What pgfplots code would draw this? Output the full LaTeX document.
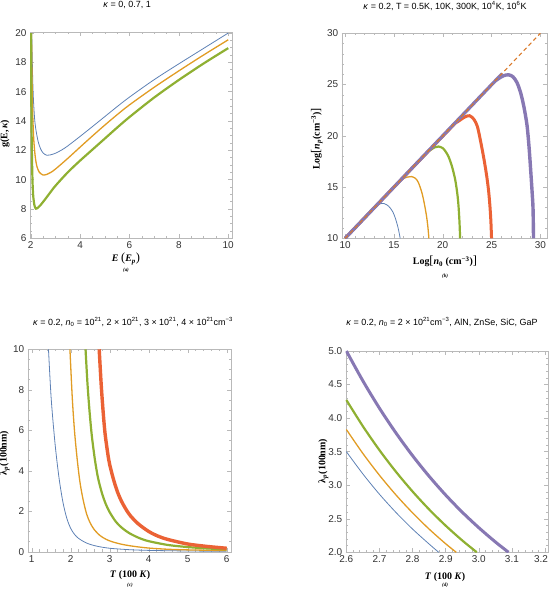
\documentclass[border=0pt]{standalone}
\usepackage{fontspec}
\setmainfont{Liberation Serif}
\setsansfont{Liberation Sans}
\usepackage{pgfplots}
\pgfplotsset{compat=1.18}

\definecolor{mblue}{RGB}{94,129,181}
\definecolor{morange}{RGB}{225,156,36}
\definecolor{mgreen}{RGB}{143,176,50}
\definecolor{mred}{RGB}{235,98,53}
\definecolor{mpurple}{RGB}{135,120,179}
\definecolor{mdash}{RGB}{218,120,40}
\definecolor{fr}{RGB}{185,185,185}

\pgfplotsset{
  mma/.style={
    scale only axis, anchor=south west,
    axis line style={fr},
    every tick/.style={fr},
    major tick length=4bp, minor tick length=2.2bp,
    tick label style={font=\sffamily\fontsize{10}{10}\selectfont, text=black!80},
    /pgf/number format/assume math mode=true,
  },
  lb/.style={mblue, line width=0.8bp, smooth},
  lo/.style={morange, line width=1.3bp, smooth},
  lg/.style={mgreen, line width=2.2bp, smooth},
  lr/.style={mred, line width=3.0bp, smooth},
  lp/.style={mpurple, line width=3.4bp, smooth},
}
\newcommand{\ttl}{\sffamily\fontsize{9}{10}\selectfont}
\newcommand{\lab}{\rmfamily\bfseries\fontsize{10}{11}\selectfont}
\newcommand{\sub}{\rmfamily\bfseries\itshape\fontsize{5}{5}\selectfont}
\newcommand{\bp}[1]{{\fontsize{12.5}{12.5}\selectfont\mdseries #1}}

\begin{document}
\begin{tikzpicture}
\path[use as bounding box] (0,0) rectangle (549bp,589bp);

% (a)
\begin{axis}[mma, at={(30bp,350.7bp)}, width=201.7bp, height=206bp,
  xmin=1.97, xmax=10.14, ymin=6, ymax=20.05,
  xtick={2,4,...,10}, ytick={6,8,...,20}, minor tick num=3]
\addplot[lb] coordinates {(2.04,20) (2.07,17.5) (2.1,15.8) (2.15,14.3) (2.2,13.5) (2.3,12.6) (2.4,12.1) (2.5,11.82) (2.65,11.66) (2.8,11.69) (3.0,11.8) (3.25,12.02) (3.5,12.3) (4.0,12.95) (4.5,13.62) (5.0,14.3) (5.5,14.98) (6.0,15.63) (7.0,16.82) (8.0,17.9) (9.0,18.95) (10.0,20.0)};
\addplot[lo] coordinates {(2.03,20) (2.05,17) (2.08,14.5) (2.12,12.8) (2.18,11.6) (2.25,10.9) (2.35,10.5) (2.5,10.32) (2.65,10.36) (2.8,10.48) (3.0,10.72) (3.5,11.45) (4.0,12.22) (4.5,12.98) (5.0,13.72) (5.5,14.43) (6.0,15.1) (7.0,16.3) (8.0,17.42) (9.0,18.5) (10.0,19.54)};
\addplot[lg] coordinates {(2.01,20) (2.02,16) (2.04,12.5) (2.07,10) (2.1,8.9) (2.15,8.25) (2.21,8.02) (2.3,8.1) (2.4,8.27) (2.5,8.48) (2.6,8.7) (2.8,9.15) (3.0,9.58) (3.5,10.5) (4.0,11.3) (4.5,12.05) (5.0,12.8) (5.5,13.55) (6.0,14.27) (7.0,15.6) (8.0,16.8) (9.0,17.92) (10.0,18.97)};
\end{axis}

% (b)
\begin{axis}[mma, at={(341.7bp,350.7bp)}, width=205bp, height=205bp,
  xmin=9.65, xmax=30.65, ymin=10, ymax=30,
  xtick={10,15,...,30}, ytick={10,15,...,30}, minor tick num=4]
\addplot[lb] coordinates {(10,10) (12,11.99) (12.6,12.58) (13,12.93) (13.3,13.18) (13.55,13.34) (13.76,13.41) (14.0,13.39) (14.3,13.25) (14.6,12.98) (14.9,12.55) (15.15,11.95) (15.35,11.3) (15.5,10.7) (15.64,10)};
\addplot[lo] coordinates {(10,10) (15,14.98) (15.5,15.45) (16.0,15.85) (16.4,15.98) (16.8,16.02) (17.2,15.85) (17.5,15.45) (17.85,14.5) (18.1,13.45) (18.35,12.1) (18.5,10.9) (18.58,10)};
\addplot[lg] coordinates {(10,10) (18.3,18.25) (18.8,18.65) (19.2,18.88) (19.57,18.95) (20.0,18.8) (20.3,18.45) (20.6,17.95) (20.95,17.0) (21.28,15.7) (21.5,14.3) (21.62,13.1) (21.72,11.5) (21.78,10)};
\addplot[lr] coordinates {(10,10) (21.0,20.95) (21.8,21.55) (22.3,21.85) (22.75,21.96) (23.2,21.6) (23.55,20.9) (23.85,19.6) (24.2,17.85) (24.5,16.1) (24.7,14.6) (24.83,13.2) (24.93,11.7) (25.0,10)};
\addplot[lp] coordinates {(10,10) (25.0,24.98) (25.6,25.5) (26.2,25.85) (26.75,25.95) (27.2,25.75) (27.6,25.2) (27.95,24.3) (28.3,22.9) (28.63,21.05) (28.85,18.8) (29.04,16.2) (29.17,14.3) (29.25,12.9) (29.3,10)};
\addplot[mdash, line width=1.1bp, dash pattern=on 4bp off 3bp] coordinates {(10,10) (30,30)};
\end{axis}

% (c)
\begin{axis}[mma, at={(27.7bp,37.3bp)}, width=203.3bp, height=202.4bp,
  xmin=0.897, xmax=6.11, ymin=0, ymax=10,
  xtick={1,...,6}, ytick={0,2,...,10}, minor x tick num=4, minor y tick num=3]
\addplot[lb] coordinates {(1.43,10) (1.5,7.55) (1.6,5.3) (1.7,3.65) (1.8,2.45) (1.9,1.65) (2.0,1.15) (2.1,0.85) (2.2,0.66) (2.35,0.48) (2.5,0.36) (2.7,0.26) (3.0,0.17) (3.5,0.1) (4.0,0.065) (5.0,0.035) (6.0,0.02)};
\addplot[lo] coordinates {(1.98,10) (2.04,7.6) (2.1,5.9) (2.17,4.5) (2.24,3.4) (2.32,2.55) (2.41,1.85) (2.5,1.42) (2.6,1.1) (2.75,0.8) (2.9,0.62) (3.05,0.5) (3.3,0.37) (3.6,0.27) (4.0,0.18) (4.5,0.12) (5.0,0.09) (6.0,0.055)};
\addplot[lg] coordinates {(2.38,10) (2.43,8.3) (2.48,7.0) (2.54,5.75) (2.62,4.55) (2.7,3.65) (2.8,2.9) (2.9,2.35) (3.0,1.95) (3.15,1.5) (3.3,1.2) (3.5,0.92) (3.75,0.68) (4.0,0.52) (4.5,0.33) (5.0,0.23) (5.5,0.16) (6.0,0.12)};
\addplot[lr, line width=3.4bp] coordinates {(2.73,10) (2.78,8.3) (2.83,6.95) (2.88,5.85) (2.95,4.85) (3.0,4.3) (3.1,3.55) (3.2,2.95) (3.3,2.5) (3.4,2.15) (3.52,1.8) (3.73,1.38) (4.0,1.0) (4.25,0.76) (4.5,0.6) (5.0,0.38) (5.5,0.26) (6.0,0.17)};
\end{axis}

% (d)
\begin{axis}[mma, at={(345.7bp,36.7bp)}, width=202.6bp, height=201.3bp,
  xmin=2.598, xmax=3.21, ymin=2, ymax=5,
  xtick={2.6,2.7,2.8,2.9,3.0,3.1,3.2},
  xticklabels={2.6,2.7,2.8,2.9,3.0,3.1,{\hspace*{-8bp}3.2}},
  ytick={2,2.5,...,5}, minor tick num=4,
  yticklabel style={/pgf/number format/.cd, fixed, fixed zerofill, precision=1}]
\addplot[lb] coordinates {(2.6,3.5) (2.65,3.167) (2.7,2.865) (2.75,2.593) (2.8,2.346) (2.85,2.123) (2.879,2.0)};
\addplot[lo] coordinates {(2.6,3.83) (2.65,3.472) (2.7,3.148) (2.75,2.854) (2.8,2.588) (2.85,2.346) (2.9,2.127) (2.932,2.0)};
\addplot[lg] coordinates {(2.6,4.27) (2.65,3.878) (2.7,3.522) (2.75,3.199) (2.8,2.906) (2.85,2.639) (2.9,2.397) (2.95,2.177) (2.994,2.0)};
\addplot[lp, line width=3.0bp] coordinates {(2.6,5.0) (2.65,4.554) (2.7,4.147) (2.75,3.777) (2.8,3.44) (2.85,3.133) (2.9,2.853) (2.95,2.598) (3.0,2.367) (3.05,2.155) (3.09,2.0)};
\end{axis}

% titles
\node[font=\ttl] at (127bp,584bp) {\textit{κ} = 0, 0.7, 1};
\node[font=\ttl] at (445bp,583bp) {\textit{κ} = 0.2, T = 0.5K, 10K, 300K, 10\textsuperscript{4}K, 10\textsuperscript{6}K};
\node[font=\ttl] at (133bp,267.3bp) {\textit{κ} = 0.2, \textit{n}\textsubscript{0} = 10\textsuperscript{21}, 2 × 10\textsuperscript{21}, 3 × 10\textsuperscript{21}, 4 × 10\textsuperscript{21}cm\textsuperscript{−3}};
\node[font=\ttl] at (442bp,267.3bp) {\textit{κ} = 0.2, \textit{n}\textsubscript{0} = 2 × 10\textsuperscript{21}cm\textsuperscript{−3}, AlN, ZnSe, SiC, GaP};

% x labels
\node[font=\lab] at (126bp,330bp) {\textit{E} \bp{(}\textit{E}\textsubscript{\textit{p}}\bp{)}};
\node[font=\lab] at (445bp,327.3bp) {Log\bp{[}\textit{n}\textsubscript{0} (cm\textsuperscript{−3})\bp{]}};
\node[font=\lab] at (130bp,14bp) {\textit{T} (100 \textit{K})};
\node[font=\lab] at (445bp,12.3bp) {\textit{T} (100 \textit{K})};

% y labels
\node[font=\lab, rotate=90] at (5bp,455bp) {g(E,\,\textit{κ})};
\node[font=\lab, rotate=90] at (316.7bp,450bp) {Log\bp{[}\textit{n}\textsubscript{\textit{p}}(cm\textsuperscript{−3})\bp{]}};
\node[font=\lab, rotate=90] at (4.5bp,136bp) {λ\textsubscript{\textit{p}}(100nm)};
\node[font=\lab, rotate=90] at (323.3bp,128bp) {λ\textsubscript{\textit{p}}(100nm)};

% sub captions
\node[font=\sub] at (126bp,318.5bp) {(a)};
\node[font=\sub] at (445bp,313bp) {(b)};
\node[font=\sub] at (130bp,4bp) {(c)};
\node[font=\sub] at (445bp,4bp) {(d)};
\end{tikzpicture}
\end{document}
